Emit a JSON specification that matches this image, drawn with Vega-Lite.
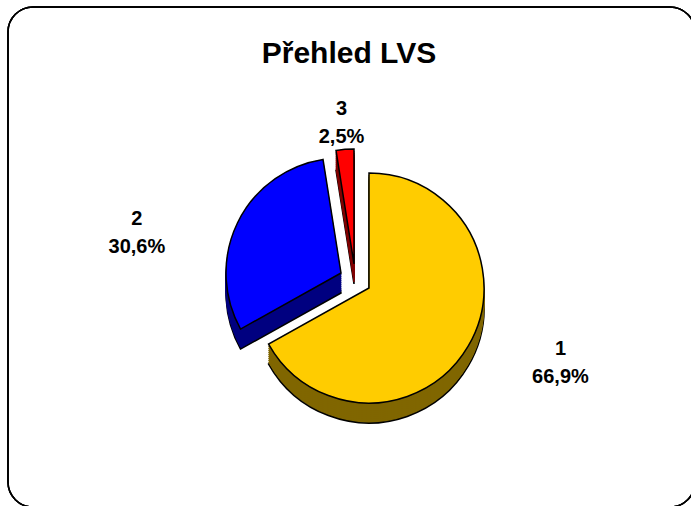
{
  "$schema": "https://vega.github.io/schema/vega-lite/v6.json",
  "width": 682,
  "height": 498,
  "autosize": {"type": "none"},
  "padding": {"left": 8, "top": 7, "right": 1, "bottom": 1},
  "background": "white",
  "config": {"view": {"stroke": null}},
  "title": {"text": "Přehled LVS", "font": "Liberation Sans", "fontSize": 30, "fontWeight": "bold", "color": "black", "offset": -87, "baseline": "alphabetic", "anchor": "middle"},
  "data": {"values": [
    {"slice": 1, "value": 66.9, "label": "1\n66,9%"},
    {"slice": 2, "value": 30.6, "label": "2\n30,6%"},
    {"slice": 3, "value": 2.5, "label": "3\n2,5%"}
  ]},
  "transform": [{"stack": "value", "groupby": [], "sort": [{"field": "slice", "order": "ascending"}], "as": ["v0", "v1"]}],
  "layer": [
    {
      "mark": {"type": "rect", "filled": false, "stroke": "black", "strokeWidth": 1.5, "cornerRadius": 25, "x2Offset": 5, "y2Offset": 2},
      "encoding": {
        "x": {"value": 0}, "x2": {"value": "width"},
        "y": {"value": 0}, "y2": {"value": "height"}
      }
    },
    {
      "transform": [{"filter": "datum.slice == 3"}],
      "encoding": {
        "theta": {"field": "v0", "type": "quantitative", "stack": null, "scale": {"domain": [0, 100]}},
        "theta2": {"field": "v1"}
      },
      "layer": [
        {"mark": {"type": "arc", "outerRadius": 115, "xOffset": 5, "yOffset": 28, "fill": "#800000", "stroke": "black", "strokeWidth": 1.5}},
        {"mark": {"type": "arc", "outerRadius": 115, "xOffset": 5, "yOffset": 26, "fill": "#800000", "stroke": "#800000", "strokeWidth": 1}},
        {"mark": {"type": "arc", "outerRadius": 115, "xOffset": 5, "yOffset": 24, "fill": "#800000", "stroke": "#800000", "strokeWidth": 1}},
        {"mark": {"type": "arc", "outerRadius": 115, "xOffset": 5, "yOffset": 22, "fill": "#800000", "stroke": "#800000", "strokeWidth": 1}},
        {"mark": {"type": "arc", "outerRadius": 115, "xOffset": 5, "yOffset": 20, "fill": "#800000", "stroke": "#800000", "strokeWidth": 1}},
        {"mark": {"type": "arc", "outerRadius": 115, "xOffset": 5, "yOffset": 18, "fill": "#800000", "stroke": "#800000", "strokeWidth": 1}},
        {"mark": {"type": "arc", "outerRadius": 115, "xOffset": 5, "yOffset": 16, "fill": "#800000", "stroke": "#800000", "strokeWidth": 1}},
        {"mark": {"type": "arc", "outerRadius": 115, "xOffset": 5, "yOffset": 14, "fill": "#800000", "stroke": "#800000", "strokeWidth": 1}},
        {"mark": {"type": "arc", "outerRadius": 115, "xOffset": 5, "yOffset": 12, "fill": "#800000", "stroke": "#800000", "strokeWidth": 1}},
        {"mark": {"type": "arc", "outerRadius": 115, "xOffset": 5, "yOffset": 10, "fill": "#800000", "stroke": "#800000", "strokeWidth": 1}},
        {"mark": {"type": "arc", "outerRadius": 115, "xOffset": 5, "yOffset": 8, "fill": "#FF0000", "stroke": "black", "strokeWidth": 1.5}}
      ]
    },
    {
      "transform": [{"filter": "datum.slice == 2"}],
      "encoding": {
        "theta": {"field": "v0", "type": "quantitative", "stack": null, "scale": {"domain": [0, 100]}},
        "theta2": {"field": "v1"}
      },
      "layer": [
        {"mark": {"type": "arc", "outerRadius": 115, "xOffset": -8, "yOffset": 37, "fill": "#000080", "stroke": "black", "strokeWidth": 1.5}},
        {"mark": {"type": "arc", "outerRadius": 115, "xOffset": -8, "yOffset": 35, "fill": "#000080", "stroke": "#000080", "strokeWidth": 1}},
        {"mark": {"type": "arc", "outerRadius": 115, "xOffset": -8, "yOffset": 33, "fill": "#000080", "stroke": "#000080", "strokeWidth": 1}},
        {"mark": {"type": "arc", "outerRadius": 115, "xOffset": -8, "yOffset": 31, "fill": "#000080", "stroke": "#000080", "strokeWidth": 1}},
        {"mark": {"type": "arc", "outerRadius": 115, "xOffset": -8, "yOffset": 29, "fill": "#000080", "stroke": "#000080", "strokeWidth": 1}},
        {"mark": {"type": "arc", "outerRadius": 115, "xOffset": -8, "yOffset": 27, "fill": "#000080", "stroke": "#000080", "strokeWidth": 1}},
        {"mark": {"type": "arc", "outerRadius": 115, "xOffset": -8, "yOffset": 25, "fill": "#000080", "stroke": "#000080", "strokeWidth": 1}},
        {"mark": {"type": "arc", "outerRadius": 115, "xOffset": -8, "yOffset": 23, "fill": "#000080", "stroke": "#000080", "strokeWidth": 1}},
        {"mark": {"type": "arc", "outerRadius": 115, "xOffset": -8, "yOffset": 21, "fill": "#000080", "stroke": "#000080", "strokeWidth": 1}},
        {"mark": {"type": "arc", "outerRadius": 115, "xOffset": -8, "yOffset": 19, "fill": "#000080", "stroke": "#000080", "strokeWidth": 1}},
        {"mark": {"type": "arc", "outerRadius": 115, "xOffset": -8, "yOffset": 17, "fill": "#0000FF", "stroke": "black", "strokeWidth": 1.5}}
      ]
    },
    {
      "transform": [{"filter": "datum.slice == 1"}],
      "encoding": {
        "theta": {"field": "v0", "type": "quantitative", "stack": null, "scale": {"domain": [0, 100]}},
        "theta2": {"field": "v1"}
      },
      "layer": [
        {"mark": {"type": "arc", "outerRadius": 115, "xOffset": 20, "yOffset": 52, "fill": "#806600", "stroke": "black", "strokeWidth": 1.5}},
        {"mark": {"type": "arc", "outerRadius": 115, "xOffset": 20, "yOffset": 50, "fill": "#806600", "stroke": "#806600", "strokeWidth": 1}},
        {"mark": {"type": "arc", "outerRadius": 115, "xOffset": 20, "yOffset": 48, "fill": "#806600", "stroke": "#806600", "strokeWidth": 1}},
        {"mark": {"type": "arc", "outerRadius": 115, "xOffset": 20, "yOffset": 46, "fill": "#806600", "stroke": "#806600", "strokeWidth": 1}},
        {"mark": {"type": "arc", "outerRadius": 115, "xOffset": 20, "yOffset": 44, "fill": "#806600", "stroke": "#806600", "strokeWidth": 1}},
        {"mark": {"type": "arc", "outerRadius": 115, "xOffset": 20, "yOffset": 42, "fill": "#806600", "stroke": "#806600", "strokeWidth": 1}},
        {"mark": {"type": "arc", "outerRadius": 115, "xOffset": 20, "yOffset": 40, "fill": "#806600", "stroke": "#806600", "strokeWidth": 1}},
        {"mark": {"type": "arc", "outerRadius": 115, "xOffset": 20, "yOffset": 38, "fill": "#806600", "stroke": "#806600", "strokeWidth": 1}},
        {"mark": {"type": "arc", "outerRadius": 115, "xOffset": 20, "yOffset": 36, "fill": "#806600", "stroke": "#806600", "strokeWidth": 1}},
        {"mark": {"type": "arc", "outerRadius": 115, "xOffset": 20, "yOffset": 34, "fill": "#806600", "stroke": "#806600", "strokeWidth": 1}},
        {"mark": {"type": "arc", "outerRadius": 115, "xOffset": 20, "yOffset": 32, "fill": "#FFCC00", "stroke": "black", "strokeWidth": 1.5}}
      ]
    },
    {
      "mark": {"type": "text", "radius": 200, "xOffset": 39, "yOffset": -8, "font": "Liberation Sans", "fontSize": 20, "fontWeight": "bold", "lineBreak": "\n", "lineHeight": 28, "align": "center", "baseline": "middle", "color": "black"},
      "encoding": {
        "theta": {"field": "value", "type": "quantitative", "stack": true, "scale": {"domain": [0, 100]}},
        "order": {"field": "slice", "type": "quantitative", "sort": "ascending"},
        "text": {"condition": {"test": "datum.slice == 1", "field": "label"}, "value": ""}
      }
    },
    {
      "mark": {"type": "text", "radius": 178, "xOffset": -52, "yOffset": 41, "font": "Liberation Sans", "fontSize": 20, "fontWeight": "bold", "lineBreak": "\n", "lineHeight": 28, "align": "center", "baseline": "middle", "color": "black"},
      "encoding": {
        "theta": {"field": "value", "type": "quantitative", "stack": true, "scale": {"domain": [0, 100]}},
        "order": {"field": "slice", "type": "quantitative", "sort": "ascending"},
        "text": {"condition": {"test": "datum.slice == 2", "field": "label"}, "value": ""}
      }
    },
    {
      "mark": {"type": "text", "radius": 172, "xOffset": 6, "yOffset": 24, "font": "Liberation Sans", "fontSize": 20, "fontWeight": "bold", "lineBreak": "\n", "lineHeight": 28, "align": "center", "baseline": "middle", "color": "black"},
      "encoding": {
        "theta": {"field": "value", "type": "quantitative", "stack": true, "scale": {"domain": [0, 100]}},
        "order": {"field": "slice", "type": "quantitative", "sort": "ascending"},
        "text": {"condition": {"test": "datum.slice == 3", "field": "label"}, "value": ""}
      }
    }
  ]
}
